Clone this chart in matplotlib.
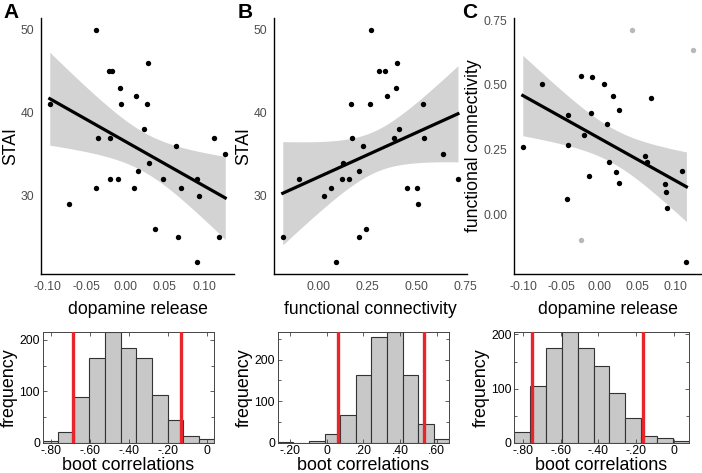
import numpy as np
import matplotlib
matplotlib.use("Agg")
import matplotlib.pyplot as plt

plt.rcParams["font.family"] = ["Liberation Sans", "DejaVu Sans"]
plt.rcParams["axes.unicode_minus"] = False

# ---- scatter data ----
a_x = [-0.097, -0.072, -0.038, -0.036, -0.038, -0.022, -0.017, -0.020, -0.020, -0.010,
       -0.007, -0.006, 0.011, 0.013, 0.016, 0.023, 0.027, 0.028, 0.030, 0.037,
       0.048, 0.064, 0.067, 0.071, 0.091, 0.091, 0.094, 0.113, 0.119, 0.127]
a_y = [41, 29, 50, 37, 31, 45, 45, 37, 32, 32,
       43, 41, 31, 42, 33, 38, 41, 46, 34, 26,
       32, 36, 25, 31, 32, 22, 30, 37, 25, 35]

b_x = [-0.182, -0.097, 0.029, 0.063, 0.090, 0.121, 0.124, 0.155, 0.167, 0.174,
       0.206, 0.206, 0.228, 0.245, 0.264, 0.271, 0.308, 0.340, 0.351, 0.396,
       0.385, 0.403, 0.415, 0.451, 0.505, 0.509, 0.534, 0.539, 0.640, 0.714]
b_y = [25, 32, 30, 31, 22, 32, 34, 32, 41, 37,
       25, 33, 36, 26, 41, 50, 45, 45, 42, 43,
       37, 46, 38, 31, 31, 29, 41, 37, 35, 32]

c_x = [-0.101, -0.076, -0.043, -0.042, -0.041, -0.024, -0.021, -0.014, -0.011, -0.010,
       0.006, 0.009, 0.012, 0.018, 0.022, 0.025, 0.026, 0.067, 0.059, 0.062,
       0.086, 0.087, 0.089, 0.108, 0.114]
c_y = [0.261, 0.505, 0.058, 0.266, 0.382, 0.536, 0.305, 0.149, 0.393, 0.531,
       0.503, 0.347, 0.200, 0.458, 0.162, 0.401, 0.119, 0.448, 0.224, 0.203,
       0.116, 0.085, 0.023, 0.168, -0.187]
c_out_x = [0.043, 0.122, -0.024]   # excluded points (grey)
c_out_y = [0.714, 0.637, -0.099]

# ---- bootstrap histograms ----
ha_counts = [3, 20, 88, 164, 216, 184, 164, 92, 44, 14, 7]
ha_range = (-0.845, 0.039)
ha_ci = (-0.687, -0.132)

hb_counts = [1, 0, 4, 21, 66, 163, 255, 267, 164, 44, 9]
hb_range = (-0.267, 0.668)
hb_ci = (0.063, 0.532)

hc_counts = [19, 104, 175, 204, 175, 142, 92, 45, 12, 8, 3]
hc_range = (-0.844, 0.076)
hc_ci = (-0.749, -0.164)

W, H = 702, 473
fig = plt.figure(figsize=(W / 100, H / 100), dpi=100)


def px_axes(left, right, top, bottom):
    return fig.add_axes([left / W, 1 - bottom / H, (right - left) / W, (bottom - top) / H])


def expand(vals):
    lo, hi = min(vals), max(vals)
    pad = 0.05 * (hi - lo)
    return lo - pad, hi + pad


def scatter_panel(ax, x, y, xlabel, ylabel, xticks, yticks, extra=None):
    x = np.asarray(x)
    y = np.asarray(y)
    n = len(x)
    slope, icpt = np.polyfit(x, y, 1)
    xs = np.linspace(x.min(), x.max(), 100)
    fit = icpt + slope * xs
    s = np.sqrt(np.sum((y - (icpt + slope * x)) ** 2) / (n - 2))
    se = s * np.sqrt(1 / n + (xs - x.mean()) ** 2 / np.sum((x - x.mean()) ** 2))
    t = {23: 2.069, 28: 2.048}.get(n - 2, 2.05)
    ax.fill_between(xs, fit - t * se, fit + t * se, color="#d3d3d3", lw=0, zorder=1)
    ax.scatter(x, y, s=15, color="black", lw=0, zorder=3)
    allx, ally = list(x), list(y)
    if extra is not None:
        ax.scatter(extra[0], extra[1], s=15, color="#b8b8b8", lw=0, zorder=2)
        allx += list(extra[0])
        ally += list(extra[1])
    ax.plot(xs, fit, color="black", lw=2.3, zorder=4)
    ax.set_xlim(*expand(allx))
    ax.set_ylim(*expand(ally))
    ax.set_xticks(xticks)
    ax.set_yticks(yticks)
    ax.set_xticklabels([f"{v:.2f}" for v in xticks])
    if isinstance(yticks[0], float):
        ax.set_yticklabels([f"{v:.2f}" for v in yticks])
    for sp in ["top", "right"]:
        ax.spines[sp].set_visible(False)
    for sp in ["left", "bottom"]:
        ax.spines[sp].set_linewidth(1.0)
    ax.tick_params(length=0, pad=5, labelsize=8.7, labelcolor="#4d4d4d")
    ax.set_xlabel(xlabel, fontsize=12.7, labelpad=6)
    ax.set_ylabel(ylabel, fontsize=12.7, labelpad=1)


def hist_panel(ax, counts, rng, ci, xticks):
    edges = np.linspace(rng[0], rng[1], len(counts) + 1)
    ax.bar(edges[:-1], counts, width=np.diff(edges), align="edge",
           color="#c8c8c8", edgecolor="#333333", lw=0.8, zorder=1)
    for c in ci:
        ax.axvline(c, color="#e8262a", lw=2.4, zorder=3)
    ax.set_xlim(rng[0], rng[1])
    ax.set_ylim(0, max(counts))
    ax.set_xticks(xticks)
    ax.set_xticklabels(["0" if abs(v) < 1e-9 else f"{v:.2f}".replace("0.", ".") for v in xticks])
    ax.set_yticks([0, 100, 200])
    ax.set_yticks([50, 150] + ([250] if max(counts) > 250 else []), minor=True)
    ax.tick_params(which="both", direction="in", top=True, right=True,
                   labelsize=8.8, pad=2, width=0.6, color="#444444")
    ax.tick_params(which="major", length=3)
    ax.tick_params(which="minor", length=2)
    for sp in ax.spines.values():
        sp.set_linewidth(0.7)
        sp.set_color("#444444")
    ax.set_xlabel("boot correlations", fontsize=12.9, labelpad=0)
    ax.set_ylabel("frequency", fontsize=12.9, labelpad=1)


ax_a = px_axes(41, 234, 18, 274)
scatter_panel(ax_a, a_x, a_y, "dopamine release", "STAI",
              [-0.10, -0.05, 0.0, 0.05, 0.10], [30, 40, 50])
ax_b = px_axes(274, 466.7, 18, 274)
scatter_panel(ax_b, b_x, b_y, "functional connectivity", "STAI",
              [0.0, 0.25, 0.5, 0.75], [30, 40, 50])
ax_c = px_axes(514.3, 701, 18, 274)
scatter_panel(ax_c, c_x, c_y, "dopamine release", "functional connectivity",
              [-0.10, -0.05, 0.0, 0.05, 0.10], [0.0, 0.25, 0.5, 0.75],
              extra=(c_out_x, c_out_y))

hist_panel(px_axes(42.7, 214.3, 331.7, 442.7), ha_counts, ha_range, ha_ci,
           [-0.8, -0.6, -0.4, -0.2, 0.0])
hist_panel(px_axes(277.7, 449.3, 331.7, 442.7), hb_counts, hb_range, hb_ci,
           [-0.2, 0.0, 0.2, 0.4, 0.6])
hist_panel(px_axes(514.3, 688.7, 332.3, 442.7), hc_counts, hc_range, hc_ci,
           [-0.8, -0.6, -0.4, -0.2, 0.0])

for lab, xp in [("A", 11), ("B", 245), ("C", 470)]:
    fig.text(xp / W, 1 - 12 / H, lab, fontsize=15, fontweight="bold",
             ha="center", va="center")

fig.savefig("out.png", dpi=100)
